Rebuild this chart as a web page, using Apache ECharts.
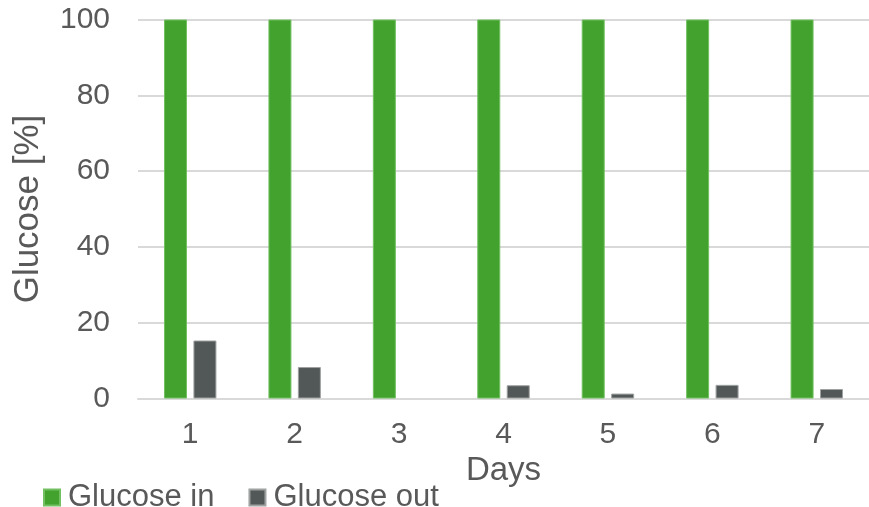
<!DOCTYPE html>
<html>
<head>
<meta charset="utf-8">
<script src="https://cdn.jsdelivr.net/npm/echarts@6/dist/echarts.min.js"></script>
<style>
  html, body { margin: 0; padding: 0; background: #fff; }
  #chart { width: 869px; height: 507px; }
</style>
</head>
<body>
<div id="chart"></div>
<script>
// Daily glucose measurements, in percent of the feed
const days = ['1', '2', '3', '4', '5', '6', '7'];
const glucoseIn = [100, 100, 100, 100, 100, 100, 100];
const glucoseOut = [15.3, 8.3, 0, 3.5, 1.3, 3.6, 2.5];
const yTicks = [0, 20, 40, 60, 80, 100];

const textColor = '#595959';
const font = 'Liberation Sans, Arial, sans-serif';

// Zero-height bars get no outline so nothing shows on the baseline
const withOutline = (values) => values.map(v => (v === 0 ? { value: v, itemStyle: { borderWidth: 0 } } : v));

const chart = echarts.init(document.getElementById('chart'), null, { renderer: 'canvas' });

chart.setOption({
  animation: false,
  textStyle: { fontFamily: font },
  grid: { left: 138, right: 0, top: 19.5, bottom: 108.5, containLabel: false },
  legend: {
    left: 38,
    top: 477,
    itemWidth: 16,
    itemHeight: 16,
    itemGap: 34,
    icon: 'rect',
    textStyle: { color: textColor, fontSize: 31, fontFamily: font, padding: [0, 0, 0, 3] },
    data: ['Glucose in', 'Glucose out']
  },
  xAxis: {
    type: 'category',
    data: days,
    name: 'Days',
    nameLocation: 'middle',
    nameGap: 44,
    nameTextStyle: { color: textColor, fontSize: 33, fontFamily: font },
    axisLine: { show: true, lineStyle: { color: '#d9d9d9', width: 2 } },
    axisTick: { show: false },
    axisLabel: { color: textColor, fontSize: 30, fontFamily: font, margin: 21 }
  },
  yAxis: {
    type: 'value',
    min: yTicks[0],
    max: yTicks[yTicks.length - 1],
    interval: yTicks[1] - yTicks[0],
    name: 'Glucose [%]',
    nameLocation: 'middle',
    nameGap: 92,
    nameTextStyle: { color: textColor, fontSize: 35, fontFamily: font },
    axisLine: { show: false },
    axisTick: { show: false },
    axisLabel: { color: textColor, fontSize: 30, fontFamily: font, margin: 28 },
    splitLine: { lineStyle: { color: '#d9d9d9', width: 2 } }
  },
  series: [
    {
      name: 'Glucose in',
      type: 'bar',
      data: withOutline(glucoseIn),
      barWidth: 23,
      barGap: '28%',
      itemStyle: { color: '#42a22d', borderColor: '#72c062', borderWidth: 1 }
    },
    {
      name: 'Glucose out',
      type: 'bar',
      data: withOutline(glucoseOut),
      barWidth: 23,
      barGap: '28%',
      itemStyle: { color: '#525857', borderColor: '#9ea2a1', borderWidth: 1 }
    }
  ]
});
</script>
</body>
</html>
